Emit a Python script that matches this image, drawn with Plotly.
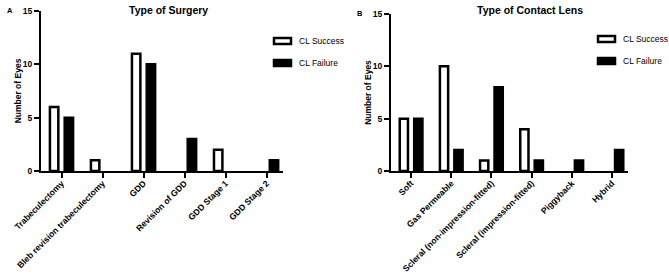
import plotly.graph_objects as go

surgery_cats = ["Trabeculectomy", "Bleb revision trabeculectomy", "GDD",
                "Revision of GDD", "GDD Stage 1", "GDD Stage 2"]
surgery_success = [6, 1, 11, 0, 2, 0]
surgery_failure = [5, 0, 10, 3, 0, 1]

lens_cats = ["Soft", "Gas Permeable", "Scleral (non-impression-fitted)",
             "Scleral (impression-fitted)", "Piggyback", "Hybrid"]
lens_success = [5, 10, 1, 4, 0, 0]
lens_failure = [5, 2, 8, 1, 1, 2]

y_ticks = [0, 5, 10, 15]
series_names = ["CL Success", "CL Failure"]

FONT = "Liberation Sans, Arial, sans-serif"
W, H = 669, 276
LW = 2.5

fig = go.Figure()

def add_panel(cats, succ, fail, xa, ya):
    for vals, fill, name in [(succ, "white", series_names[0]), (fail, "black", series_names[1])]:
        widths = [LW if v > 0 else 0 for v in vals]
        fig.add_trace(go.Bar(x=cats, y=vals, name=name, xaxis=xa, yaxis=ya,
                             marker=dict(color=fill, line=dict(color="black", width=widths)),
                             showlegend=False))

add_panel(surgery_cats, surgery_success, surgery_failure, "x", "y")
add_panel(lens_cats, lens_success, lens_failure, "x2", "y2")

def xaxis_style(domain, anchor):
    return dict(domain=domain, anchor=anchor, range=[-0.5, 5.4], showline=True,
                linecolor="black", linewidth=2, ticks="outside", ticklen=5, tickwidth=2,
                tickcolor="black", tickangle=-45, showgrid=False, zeroline=False,
                automargin=False, ticklabelstandoff=-3,
                tickfont=dict(family=FONT, size=8.6, color="black", weight="bold"))

def yaxis_style(domain, anchor):
    return dict(domain=domain, anchor=anchor, range=[0, 15], tickvals=y_ticks,
                showline=True, linecolor="black", linewidth=2, ticks="outside",
                ticklen=5, tickwidth=2, tickcolor="black", showgrid=False, zeroline=False,
                automargin=False,
                tickfont=dict(family=FONT, size=8.5, color="black", weight="bold"),
                title=dict(text="Number of Eyes", standoff=0,
                           font=dict(family=FONT, size=8.5, color="black", weight="bold")))

fig.update_layout(
    width=W, height=H, margin=dict(l=0, r=0, t=0, b=0),
    paper_bgcolor="white", plot_bgcolor="white",
    barmode="group", bargap=0.28, bargroupgap=0.43,
    xaxis=xaxis_style([41 / W, 283 / W], "y"),
    yaxis=yaxis_style([1 - 171 / H, 1 - 11 / H], "x"),
    xaxis2=xaxis_style([391 / W, 628 / W], "y2"),
    yaxis2=yaxis_style([1 - 171 / H, 1 - 14 / H], "x2"),
)

def px_x(v):
    return v / W

def px_y(v):
    return 1 - v / H

annos = [
    dict(text="<b>Type of Surgery</b>", x=px_x(168), y=px_y(2), size=10.5, anchor="center"),
    dict(text="<b>Type of Contact Lens</b>", x=px_x(530), y=px_y(2), size=10.5, anchor="center"),
    dict(text="<b>A</b>", x=px_x(5), y=px_y(4), size=7.5, anchor="left"),
    dict(text="<b>B</b>", x=px_x(355), y=px_y(7), size=7.5, anchor="left"),
]
for a in annos:
    fig.add_annotation(text=a["text"], x=a["x"], y=a["y"], xref="paper", yref="paper",
                       xanchor=a["anchor"], yanchor="top",
                       showarrow=False, font=dict(family=FONT, size=a["size"], color="black"))

# legends
legend_pos = [(273, 41, 63), (597, 39, 61)]
for lx, y1, y2 in legend_pos:
    for yy, fill, name in [(y1, "white", series_names[0]), (y2, "black", series_names[1])]:
        fig.add_shape(type="rect", xref="paper", yref="paper",
                      x0=px_x(lx + 1), x1=px_x(lx + 18), y0=px_y(yy + 3), y1=px_y(yy - 3),
                      fillcolor=fill, line=dict(color="black", width=2.5))
        fig.add_annotation(text=name, x=px_x(lx + 24), y=px_y(yy), xref="paper", yref="paper",
                           xanchor="left", yanchor="middle", showarrow=False,
                           font=dict(family=FONT, size=8.5, color="black"))

fig.write_html("out.html")
